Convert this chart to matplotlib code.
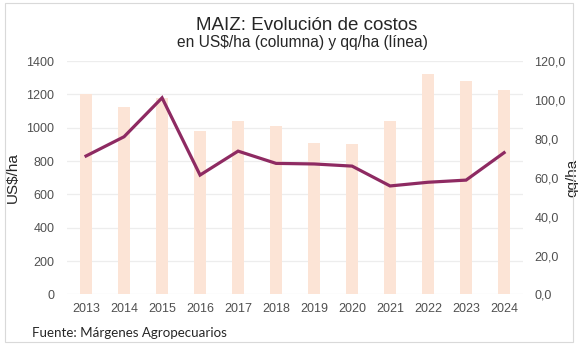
import matplotlib
matplotlib.use("Agg")
import matplotlib.pyplot as plt
from matplotlib.patches import Rectangle

# Campaign years, cost per hectare (US$/ha, columns) and yield (qq/ha, line)
years = ["2013", "2014", "2015", "2016", "2017", "2018",
         "2019", "2020", "2021", "2022", "2023", "2024"]
costos_usd_ha = [1200, 1125, 1180, 981, 1043, 1011, 911, 905, 1043, 1325, 1283, 1225]
rinde_qq_ha = [71.2, 81.1, 101.1, 61.4, 73.7, 67.4, 67.1, 66.0, 55.8, 57.7, 58.8, 72.9]

left_ticks = [0, 200, 400, 600, 800, 1000, 1200, 1400]
right_ticks = [0, 20, 40, 60, 80, 100, 120]

bar_color = "#FCE4D6"
line_color = "#8E2A62"
grid_color = "#EDEDED"
text_color = "#505050"

plt.rcParams["font.family"] = ["Liberation Sans", "DejaVu Sans"]

fig = plt.figure(figsize=(5.78, 3.45), dpi=100)
ax = fig.add_axes([0.116, 0.1464, 0.789, 0.6766])

x = list(range(len(years)))
ax.bar(x, costos_usd_ha, width=0.3, color=bar_color, zorder=2)
ax.set_ylim(0, 1400)
ax.set_xlim(-0.5, len(years) - 0.5)
ax.set_yticks(left_ticks)
ax.set_yticklabels([str(v) for v in left_ticks])
ax.set_xticks(x)
ax.set_xticklabels(years)
ax.grid(axis="y", color=grid_color, linewidth=0.9, zorder=0)
ax.set_axisbelow(True)
for s in ax.spines.values():
    s.set_visible(False)
ax.tick_params(axis="both", length=0, labelsize=9, labelcolor=text_color, colors=text_color)
ax.tick_params(axis="y", pad=9)
ax.tick_params(axis="x", pad=6)
ax.set_ylabel("US$/ha", fontsize=11, color="#262626")
ax.yaxis.set_label_coords(-0.103, 0.5)

ax2 = ax.twinx()
ax2.plot(x, rinde_qq_ha, color=line_color, linewidth=2.3, zorder=3, solid_joinstyle="miter")
ax2.set_ylim(0, 120)
ax2.set_yticks(right_ticks)
ax2.set_yticklabels([f"{v:.1f}".replace(".", ",") for v in right_ticks])
for s in ax2.spines.values():
    s.set_visible(False)
ax2.tick_params(axis="y", length=0, labelsize=9, labelcolor=text_color, pad=8)
ax2.set_ylabel("qq/ha", fontsize=11, color="#262626", rotation=90)
ax2.yaxis.set_label_coords(1.092, 0.5)

fig.text(0.531, 0.913, "MAIZ: Evolución de costos", ha="center", va="baseline",
         fontsize=13.5, color="#262626")
fig.text(0.5225, 0.865, "en US$/ha (columna) y qq/ha (línea)", ha="center", va="baseline",
         fontsize=11.2, color="#262626")
fig.text(0.055, 0.0246, "Fuente: Márgenes Agropecuarios", ha="left", va="baseline",
         fontsize=9.6, color="#262626", family=["Lato", "DejaVu Sans"])

fig.patches.append(Rectangle((0.008, 0.008), 0.984, 0.984, transform=fig.transFigure,
                             fill=False, edgecolor="#D9D9D9", linewidth=0.8))

fig.savefig("out.png", dpi=100, facecolor="white")
